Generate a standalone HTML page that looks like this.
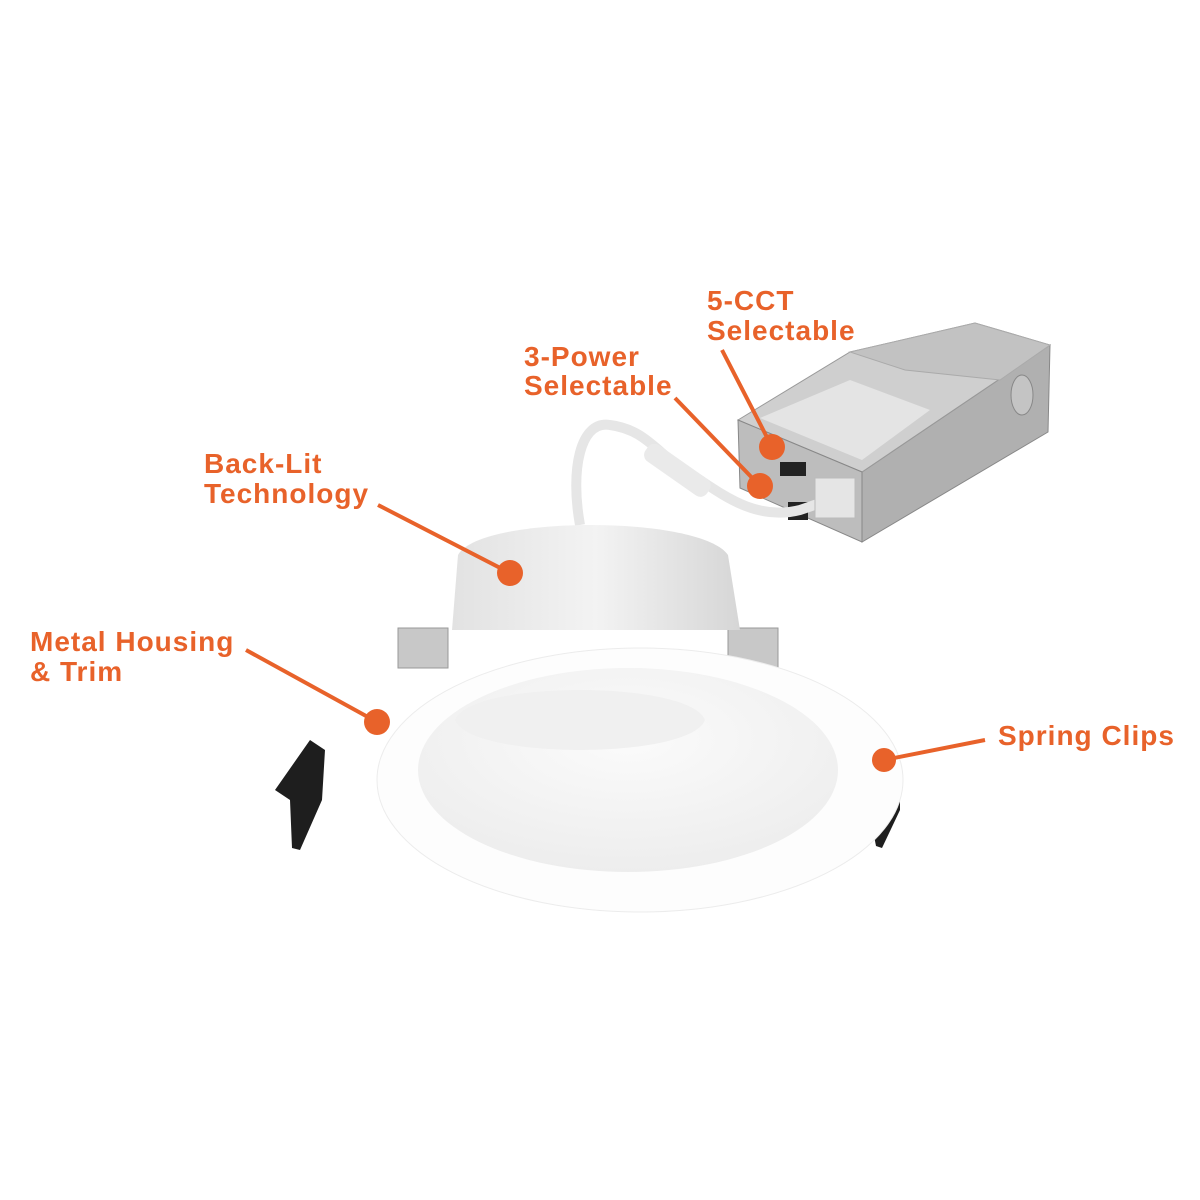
<!DOCTYPE html>
<html><head><meta charset="utf-8"><style>
html,body{margin:0;padding:0;background:#fff;}
svg{display:block}
text{font-family:"Liberation Sans",Arial,sans-serif;font-weight:bold;font-size:28px;letter-spacing:1px;fill:#e8622a}
</style></head><body>
<svg width="1200" height="1200" viewBox="0 0 1200 1200">
<defs>
<radialGradient id="inner" cx="0.5" cy="0.35" r="0.7"><stop offset="0" stop-color="#fbfbfb"/><stop offset="1" stop-color="#ececec"/></radialGradient>
<linearGradient id="dome" x1="0" y1="0" x2="1" y2="0"><stop offset="0" stop-color="#e2e2e2"/><stop offset="0.5" stop-color="#f3f3f3"/><stop offset="1" stop-color="#d6d6d6"/></linearGradient>
</defs>
<!-- junction box -->
<polygon points="862,472 1050,345 1048,432 862,542" fill="#b0b0b0" stroke="#888"/>
<polygon points="738,420 850,352 975,323 1050,345 862,472" fill="#cfcfcf" stroke="#999"/>
<polygon points="850,352 975,323 1050,345 1000,380 905,370" fill="#c2c2c2" stroke="#aaa"/>
<polygon points="760,418 850,380 930,410 862,460" fill="#e4e4e4"/>
<polygon points="738,420 862,472 862,542 740,488" fill="#bdbdbd" stroke="#888"/>
<ellipse cx="1022" cy="395" rx="11" ry="20" fill="#c4c4c4" stroke="#888"/>
<rect x="780" y="462" width="26" height="14" fill="#222"/>
<rect x="788" y="502" width="20" height="18" fill="#222"/>
<!-- cable -->
<path d="M580,525 C570,470 580,420 610,425 C650,430 660,460 700,480 C730,500 760,520 800,510 C830,500 840,495 850,495" stroke="#e6e6e6" stroke-width="10" fill="none"/>
<rect x="640" y="460" width="75" height="20" rx="8" fill="#eaeaea" transform="rotate(35 677 470)"/>
<rect x="815" y="478" width="40" height="40" fill="#e5e5e5" stroke="#bbb"/>
<!-- spring clips -->
<polygon points="275,790 310,740 325,750 322,800 300,850 292,848 290,800" fill="#1e1e1e"/>
<polygon points="862,740 900,785 900,810 882,848 876,846 868,805" fill="#1e1e1e"/>
<!-- brackets -->
<rect x="398" y="628" width="50" height="40" fill="#c8c8c8" stroke="#999"/>
<rect x="728" y="628" width="50" height="40" fill="#c8c8c8" stroke="#999"/>
<!-- dome -->
<path d="M452,630 L458,555 C480,515 700,515 728,555 L740,630 Z" fill="url(#dome)"/>
<!-- trim -->
<ellipse cx="640" cy="780" rx="263" ry="132" fill="#fdfdfd" stroke="#ececec"/>
<ellipse cx="628" cy="770" rx="210" ry="102" fill="url(#inner)"/>
<path d="M455,720 C470,680 690,680 705,720 C690,760 470,760 455,720 Z" fill="#f0f0f0"/>
<!-- callouts -->
<g stroke="#e8622a" stroke-width="4" fill="none">
<line x1="722" y1="350" x2="772" y2="447"/>
<line x1="675" y1="398" x2="760" y2="486"/>
<line x1="378" y1="505" x2="510" y2="573"/>
<line x1="246" y1="650" x2="377" y2="722"/>
<line x1="985" y1="740" x2="884" y2="760"/>
</g>
<g fill="#e8622a">
<circle cx="772" cy="447" r="13"/>
<circle cx="760" cy="486" r="13"/>
<circle cx="510" cy="573" r="13"/>
<circle cx="377" cy="722" r="13"/>
<circle cx="884" cy="760" r="12"/>
</g>
<text x="707" y="310">5-CCT</text>
<text x="707" y="340">Selectable</text>
<text x="524" y="366">3-Power</text>
<text x="524" y="395">Selectable</text>
<text x="204" y="473">Back-Lit</text>
<text x="204" y="503">Technology</text>
<text x="30" y="651">Metal Housing</text>
<text x="30" y="681">&amp; Trim</text>
<text x="998" y="745">Spring Clips</text>
</svg>
</body></html>
